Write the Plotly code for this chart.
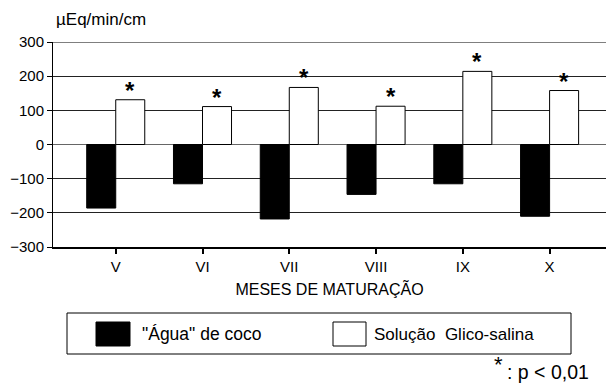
import plotly.graph_objects as go

meses = ["V", "VI", "VII", "VIII", "IX", "X"]
agua_coco = [-186, -115, -218, -146, -115, -210]
glico_salina = [131, 111, 167, 112, 214, 158]
y_ticks = [-300, -200, -100, 0, 100, 200, 300]

FONT = "Liberation Sans, Arial, Helvetica, sans-serif"
W, H = 606, 383
ML, MR, MT, MB = 53, 0, 42, 136
PW, PH = W - ML - MR, H - MT - MB

def px(x):
    return (x - ML) / PW

def py(y):
    return (H - MB - y) / PH

fig = go.Figure()
fig.add_trace(go.Bar(x=meses, y=agua_coco, name='"Água" de coco',
                     marker=dict(color="black", line=dict(color="black", width=1))))
fig.add_trace(go.Bar(x=meses, y=glico_salina, name="Solução Glico-salina",
                     marker=dict(color="white", line=dict(color="black", width=1))))

annotations = []
for m, v in zip(meses, glico_salina):
    annotations.append(dict(x=m, y=v, xref="x", yref="y", text="<b>*</b>", showarrow=False,
                            xshift=14.5, yshift=-6, yanchor="bottom",
                            font=dict(family=FONT, size=24, color="black")))

annotations += [
    dict(x=px(54), y=py(20), xref="paper", yref="paper", text="µEq/min/cm", showarrow=False,
         xanchor="left", yanchor="middle", font=dict(family=FONT, size=17, color="black")),
    dict(x=px(140), y=py(334), xref="paper", yref="paper", text='"Água" de coco', showarrow=False,
         xanchor="left", yanchor="middle", font=dict(family=FONT, size=17.5, color="black")),
    dict(x=px(372), y=py(334), xref="paper", yref="paper", text="Solução  Glico-salina", showarrow=False,
         xanchor="left", yanchor="middle", font=dict(family=FONT, size=17, color="black")),
    dict(x=px(505), y=py(364), xref="paper", yref="paper", text="*", showarrow=False,
         xanchor="right", yanchor="middle", font=dict(family=FONT, size=22, color="black")),
    dict(x=px(505), y=py(372), xref="paper", yref="paper", text=": p < 0,01", showarrow=False,
         xanchor="left", yanchor="middle", font=dict(family=FONT, size=19.5, color="black")),
]

shapes = [
    dict(type="line", xref="paper", yref="y", x0=0, x1=1, y0=300, y1=300,
         line=dict(color="black", width=1)),
    dict(type="rect", xref="paper", yref="paper", x0=px(67), x1=px(571), y0=py(354), y1=py(313),
         line=dict(color="black", width=1), fillcolor="white"),
    dict(type="rect", xref="paper", yref="paper", x0=px(96), x1=px(130), y0=py(346), y1=py(322),
         line=dict(color="black", width=1), fillcolor="black"),
    dict(type="rect", xref="paper", yref="paper", x0=px(333), x1=px(366), y0=py(346), y1=py(322),
         line=dict(color="black", width=1), fillcolor="white"),
]

fig.update_layout(
    width=W, height=H,
    margin=dict(l=ML, r=MR, t=MT, b=MB),
    paper_bgcolor="white", plot_bgcolor="white",
    barmode="group", bargap=0.331, bargroupgap=0,
    showlegend=False,
    font=dict(family=FONT, size=15, color="black"),
    annotations=annotations, shapes=shapes,
    xaxis=dict(range=[-0.723, 5.65], showline=True, linecolor="black", linewidth=2,
               ticks="outside", ticklen=5, tickwidth=2, tickcolor="black",
               showgrid=False, tickfont=dict(size=15),
               title=dict(text="MESES DE MATURAÇÃO", font=dict(size=16), standoff=10)),
    yaxis=dict(range=[-300, 300], tickvals=y_ticks, showline=True, linecolor="black", linewidth=1,
               ticks="outside", ticklen=5, tickwidth=1, tickcolor="black",
               showgrid=True, gridcolor="#222", gridwidth=1,
               zeroline=True, zerolinecolor="#666", zerolinewidth=1,
               tickfont=dict(size=15), automargin=False),
)

fig.write_html("out.html", config={"displayModeBar": False},
               post_script="document.body.style.margin='0';")
